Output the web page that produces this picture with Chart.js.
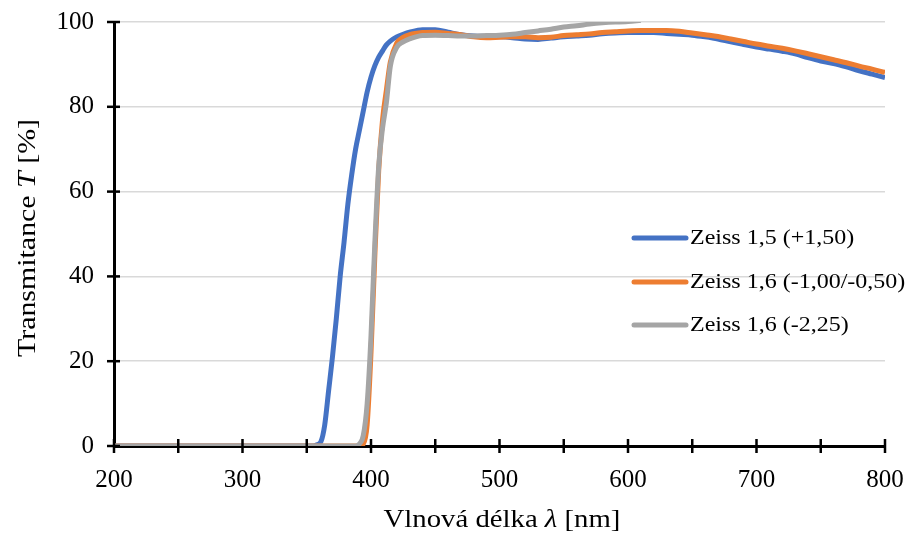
<!DOCTYPE html>
<html>
<head>
<meta charset="utf-8">
<script src="https://cdn.jsdelivr.net/npm/chart.js@4.4.1/dist/chart.umd.min.js"></script>
<style>
  html, body { margin: 0; padding: 0; background: #fff; }
  #wrap { width: 910px; height: 533px; position: relative; }
</style>
</head>
<body>
<div id="wrap"><canvas id="myChart"></canvas></div>
<script>
// Wavelength grid [nm]
const wavelengths = [200, 340, 355, 358, 361, 364, 367, 370, 373, 376, 379, 382, 385, 388, 391, 394, 397, 400, 403, 406, 409, 412, 415, 420, 425, 430, 440, 450, 460, 470, 480, 490, 500, 510, 520, 530, 540, 550, 560, 570, 580, 590, 600, 610, 620, 630, 640, 650, 660, 670, 680, 690, 700, 710, 720, 730, 740, 750, 760, 770, 780, 790, 800];

// Transmitance [%]
const zeiss15 = [0, 0, 0, 0.3, 1, 5, 13, 21, 30, 40, 48, 57, 64, 70, 74.5, 79, 83.5, 87, 89.7, 91.7, 93.2, 94.6, 95.5, 96.5, 97.1, 97.6, 98.2, 98.2, 97.6, 97.0, 96.7, 96.6, 96.5, 96.3, 96.0, 95.9, 96.2, 96.5, 96.7, 96.9, 97.2, 97.4, 97.5, 97.5, 97.5, 97.3, 97.1, 96.9, 96.5, 96.0, 95.3, 94.7, 94.1, 93.6, 93.1, 92.5, 91.6, 90.8, 90.2, 89.4, 88.5, 87.7, 86.9];
const zeiss16a = [0, 0, 0, 0, 0, 0, 0, 0, 0, 0, 0, 0, 0, 0, 0, 0.5, 5, 22, 45, 65, 77, 84, 90.5, 95, 96.4, 97, 97.5, 97.6, 97.3, 97.0, 96.5, 96.3, 96.4, 96.5, 96.5, 96.3, 96.4, 96.8, 97.0, 97.2, 97.5, 97.7, 97.9, 98.0, 98.0, 98.0, 97.8, 97.4, 97.0, 96.6, 96.0, 95.4, 94.8, 94.3, 93.8, 93.2, 92.5, 91.8, 91.1, 90.4, 89.6, 88.9, 88.1];
const zeiss16b = [0, 0, 0, 0, 0, 0, 0, 0, 0, 0, 0, 0, 0, 0, 0.5, 2.5, 10, 26, 48, 66, 75, 81, 89.5, 94, 95.3, 96, 96.8, 96.9, 96.8, 96.7, 96.7, 96.8, 96.9, 97.1, 97.5, 97.9, 98.3, 98.8, 99.1, 99.5, 99.8, 100.0, 100.1, 100.4, null, null, null, null, null, null, null, null, null, null, null, null, null, null, null, null, null, null, null];

const seriesLabels = ["Zeiss 1,5 (+1,50)", "Zeiss 1,6 (-1,00/-0,50)", "Zeiss 1,6 (-2,25)"];
const seriesColors = ["#4472C4", "#ED7D31", "#A5A5A5"];
const seriesValues = [zeiss15, zeiss16a, zeiss16b];

const xTickMarks = [200, 250, 300, 350, 400, 450, 500, 550, 600, 650, 700, 750, 800];
const yTickMarks = [0, 20, 40, 60, 80, 100];

const serif = "'Liberation Serif', 'Times New Roman', serif";

// draw text made of runs with different fonts, centered on (x, y), stretched by sx
function drawRuns(ctx, runs, x, y, sx) {
  let total = 0;
  runs.forEach((r) => {
    ctx.font = r.font;
    r.w = ctx.measureText(r.text).width;
    total += r.w;
  });
  ctx.save();
  ctx.translate(x, y);
  ctx.scale(sx, 1);
  ctx.textBaseline = "middle";
  ctx.textAlign = "left";
  ctx.fillStyle = "#000";
  let cx = -total / 2;
  runs.forEach((r) => {
    ctx.font = r.font;
    ctx.fillText(r.text, cx, 0);
    cx += r.w;
  });
  ctx.restore();
}

const extras = {
  id: "extras",
  afterDatasetsDraw(chart) {
    const ctx = chart.ctx;
    const xs = chart.scales.x;
    const ys = chart.scales.y;
    const area = chart.chartArea;

    // tick marks crossing the axes
    ctx.save();
    ctx.strokeStyle = "#000";
    ctx.lineWidth = 2.5;
    xTickMarks.forEach((v) => {
      const px = xs.getPixelForValue(v);
      ctx.beginPath();
      ctx.moveTo(px, area.bottom - 7);
      ctx.lineTo(px, area.bottom + 7);
      ctx.stroke();
    });
    yTickMarks.forEach((v) => {
      const py = ys.getPixelForValue(v);
      ctx.beginPath();
      ctx.moveTo(area.left - 7, py);
      ctx.lineTo(area.left + 6, py);
      ctx.stroke();
    });
    ctx.restore();

    // legend inside the plot
    const rows = [238, 282, 325];
    chart.data.datasets.forEach((ds, i) => {
      ctx.save();
      ctx.strokeStyle = ds.borderColor;
      ctx.lineWidth = 5;
      ctx.lineCap = "round";
      ctx.beginPath();
      ctx.moveTo(634, rows[i]);
      ctx.lineTo(686, rows[i]);
      ctx.stroke();
      ctx.restore();
      ctx.save();
      ctx.font = "20px " + serif;
      ctx.translate(690, rows[i] + 1);
      ctx.scale(1.2, 1);
      ctx.fillStyle = "#000";
      ctx.textBaseline = "middle";
      ctx.fillText(ds.label, 0, 0);
      ctx.restore();
    });

    // axis titles
    drawRuns(ctx, [
      { text: "Vlnová délka ", font: "25px " + serif },
      { text: "λ", font: "italic 25px " + serif },
      { text: " [nm]", font: "25px " + serif },
    ], 502, 520, 1.15);

    ctx.save();
    ctx.translate(28, 238);
    ctx.rotate(-Math.PI / 2);
    drawRuns(ctx, [
      { text: "Transmitance ", font: "26px " + serif },
      { text: "T", font: "italic 26px " + serif },
      { text: " [%]", font: "26px " + serif },
    ], 0, 0, 1.15);
    ctx.restore();
  },
};

const datasets = seriesLabels.map((label, i) => ({
  label: label,
  data: wavelengths.map((w, j) => ({ x: w, y: seriesValues[i][j] })),
  borderColor: seriesColors[i],
  backgroundColor: seriesColors[i],
  borderWidth: 5,
  pointRadius: 0,
  cubicInterpolationMode: "monotone",
  spanGaps: false,
  fill: false,
  order: 3 - i,
}));

const ctx = document.getElementById("myChart").getContext("2d");
new Chart(ctx, {
  type: "line",
  data: { datasets: datasets },
  options: {
    responsive: true,
    maintainAspectRatio: false,
    animation: false,
    events: [],
    layout: { padding: { top: 22, right: 25, left: 0, bottom: 0 } },
    plugins: {
      legend: { display: false },
      tooltip: { enabled: false },
    },
    scales: {
      x: {
        type: "linear",
        min: 200,
        max: 800,
        afterFit: (scale) => {
          scale.height = 87;
          scale.paddingLeft = 0;
          scale.paddingRight = 0;
        },
        ticks: {
          stepSize: 100,
          maxRotation: 0,
          padding: 19,
          color: "#000",
          font: { family: serif, size: 25 },
        },
        grid: { display: true, color: "rgba(0,0,0,0)", drawTicks: false },
        border: { display: true, color: "#000", width: 3 },
      },
      y: {
        min: 0,
        max: 100,
        afterFit: (scale) => {
          scale.width = 114;
          scale.paddingTop = 0;
          scale.paddingBottom = 0;
        },
        ticks: {
          stepSize: 20,
          padding: 20,
          color: "#000",
          font: { family: serif, size: 25 },
        },
        grid: { color: "#d9d9d9", lineWidth: 1.5, drawTicks: false },
        border: { display: true, color: "#000", width: 3 },
      },
    },
  },
  plugins: [extras],
});
</script>
</body>
</html>
